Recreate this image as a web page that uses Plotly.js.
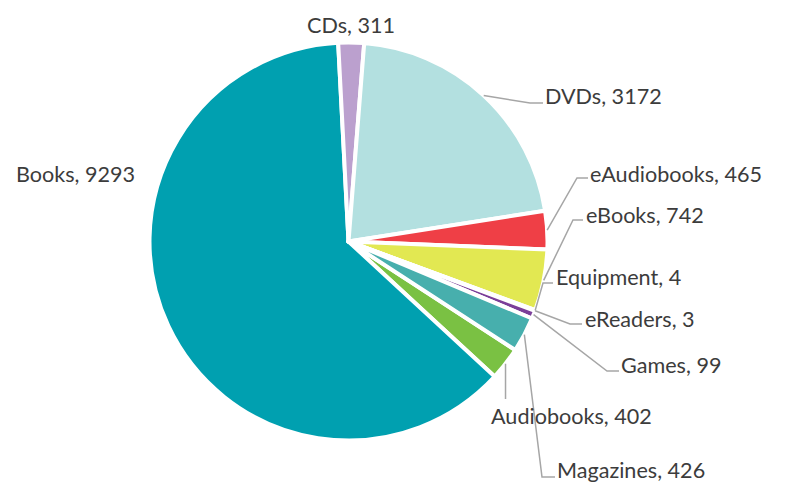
<!DOCTYPE html>
<html><head><meta charset="utf-8">
<script src="https://cdn.plot.ly/plotly-3.0.1.min.js"></script>
<style>html,body{margin:0;padding:0;background:#fff}#chart{width:787px;height:484px}</style>
</head><body><div id="chart"></div>
<script>
// ---- data ----
const categories = ['Audiobooks','Books','CDs','DVDs','eAudiobooks','eBooks','Equipment','eReaders','Games','Magazines'];
const counts = [402, 9293, 311, 3172, 465, 742, 4, 3, 99, 426];
const sliceColors = ['#7AC143','#00A0B0','#BBA0CE','#B3E0E0','#EF3F46','#E2E852','#F4A13A','#5B2C86','#7B3F99','#47AFAD'];

// ---- layout helpers ----
const W = 787, H = 484;
const cx = 348.5, cy = 241.5, R = 199;
const rotationDeg = 123.05;
const px = x => x / W, py = y => 1 - y / H;

const total = counts.reduce((a, b) => a + b, 0);
let acc = rotationDeg;
const midAngle = counts.map(v => { const s = v / total * 360; const m = acc + s / 2; acc += s; return m; });

const labelLayout = {
  'CDs':        {x: 351, y: 25, anchor: 'center'},
  'Books':      {x: 14,  y: 174},
  'DVDs':       {x: 543, y: 96,  elbow: [530, 103], endX: 543},
  'eAudiobooks':{x: 588, y: 174, elbow: [577, 178], endX: 588},
  'eBooks':     {x: 584, y: 215, elbow: [573, 220], endX: 583},
  'Equipment':  {x: 554, y: 277, elbow: [543, 283], endX: 553},
  'eReaders':   {x: 583, y: 319, elbow: [570, 324], endX: 582},
  'Games':      {x: 619, y: 365, elbow: [607, 371], endX: 619},
  'Audiobooks': {x: 489, y: 416, verticalTo: 399},
  'Magazines':  {x: 555, y: 470, elbow: [542, 477], endX: 555}
};

const annotations = [];
const shapes = [];
categories.forEach((c, i) => {
  const L = labelLayout[c];
  annotations.push({
    xref: 'paper', yref: 'paper', x: px(L.x), y: py(L.y),
    xanchor: L.anchor || 'left', yanchor: 'middle', showarrow: false,
    text: c + ', ' + counts[i],
    font: {family: 'Lato, sans-serif', size: 21.6, color: '#3C3C3C'}
  });
  const a = midAngle[i] * Math.PI / 180;
  const sx = cx + R * Math.sin(a), sy = cy - R * Math.cos(a);
  let path = null;
  if (L.elbow) {
    path = `M${px(sx)},${py(sy)} L${px(L.elbow[0])},${py(L.elbow[1])} L${px(L.endX)},${py(L.elbow[1])}`;
  } else if (L.verticalTo) {
    path = `M${px(sx)},${py(sy)} L${px(sx)},${py(L.verticalTo)}`;
  }
  if (path) shapes.push({type: 'path', xref: 'paper', yref: 'paper', path: path,
    line: {color: '#A6A6A6', width: 1.5}});
});

const trace = {
  type: 'pie',
  labels: categories,
  values: counts,
  sort: false,
  direction: 'clockwise',
  rotation: rotationDeg,
  marker: {colors: sliceColors, line: {color: '#FFFFFF', width: 4}},
  textinfo: 'none',
  hoverinfo: 'label+value',
  showlegend: false,
  domain: {x: [px(cx - R), px(cx + R)], y: [py(cy + R), py(cy - R)]}
};

Plotly.newPlot('chart', [trace], {
  width: W, height: H,
  margin: {l: 0, r: 0, t: 0, b: 0},
  paper_bgcolor: '#FFFFFF',
  showlegend: false,
  annotations: annotations,
  shapes: shapes
}, {staticPlot: true, displayModeBar: false});
</script>
</body></html>
